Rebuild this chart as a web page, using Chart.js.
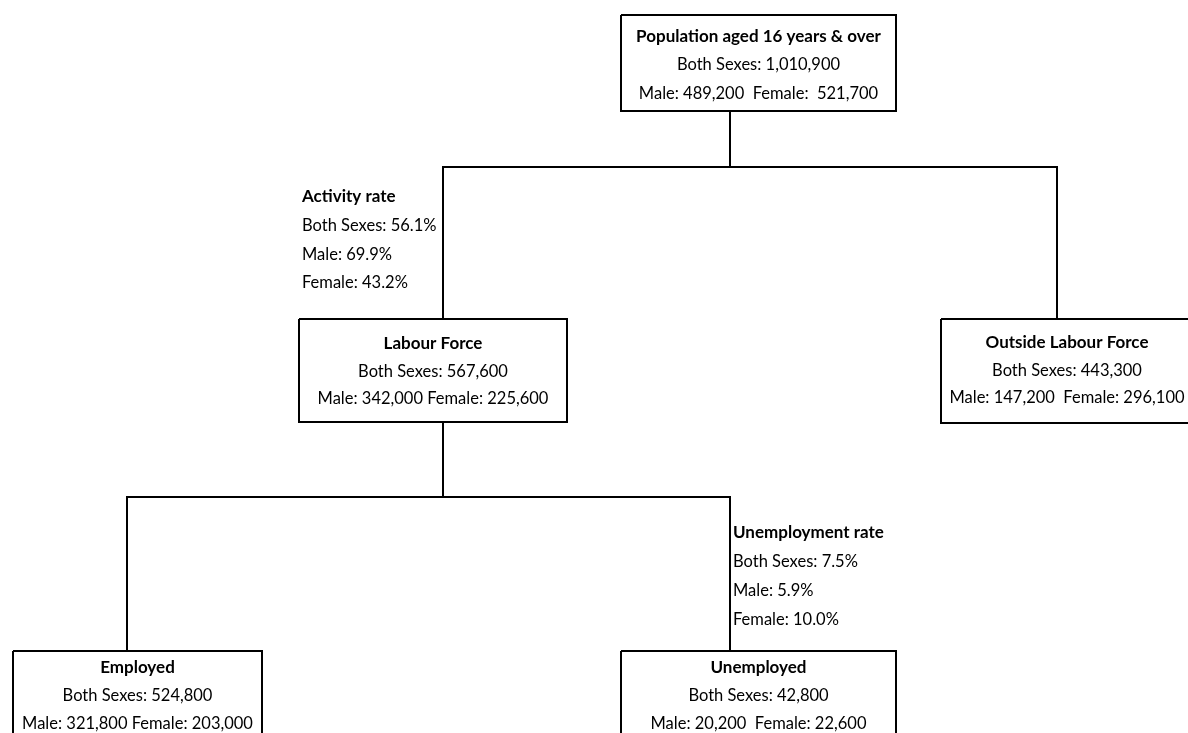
<!DOCTYPE html>
<html>
<head>
<meta charset="utf-8">
<script src="https://cdn.jsdelivr.net/npm/chart.js@4.4.1/dist/chart.umd.min.js"></script>
<style>
    html, body { margin: 0; padding: 0; background: #fff; }
    #wrap { width: 1188px; height: 733px; }
</style>
</head>
<body>
<div id="wrap"><canvas id="tree" width="1188" height="733"></canvas></div>
<script>
// data
var nodeNames = ['Population aged 16 years & over', 'Labour Force', 'Outside Labour Force', 'Employed', 'Unemployed'];
var bothSexes = [1010900, 567600, 443300, 524800, 42800];
var maleCounts = [489200, 342000, 147200, 321800, 20200];
var femaleCounts = [521700, 225600, 296100, 203000, 22600];

var rateNames = ['Activity rate', 'Unemployment rate'];
var rateBoth = [56.1, 7.5];
var rateMale = [69.9, 5.9];
var rateFemale = [43.2, 10.0];

// tree: parent -> child
var links = [[0, 1], [0, 2], [1, 3], [1, 4]];

// layout (pixels of the 1188x733 page)
var boxes = [
    {x0: 621, x1: 896, y0: 15, y1: 111, rows: [37, 65, 94], sep: ['  ', '  ']},
    {x0: 299, x1: 567, y0: 319, y1: 422, rows: [344, 372, 399], sep: [' ', ' ']},
    {x0: 941, x1: 1194, y0: 319, y1: 423, rows: [343, 371, 398], sep: ['  ', ' ']},
    {x0: 13, x1: 262, y0: 651, y1: 770, rows: [668, 696, 724], sep: [' ', ' ']},
    {x0: 621, x1: 896, y0: 651, y1: 770, rows: [668, 696, 724], sep: ['  ', ' ']}
];
var linkMidY = [167, 167, 497, 497];
var linkStub = {0: 730, 1: 443}; // x where the line leaves each parent box
var childX = {1: 443, 2: 1057, 3: 127, 4: 730};
var rateText = [
    {x: 302, rows: [197, 226, 255, 283]},
    {x: 733, rows: [533, 562, 591, 620]}
];

var fmt = function (n) { return n.toLocaleString('en-US'); };

var datasets = [];
boxes.forEach(function (b) {
    datasets.push({
        data: [{x: b.x0, y: b.y0}, {x: b.x1, y: b.y0}, {x: b.x1, y: b.y1}, {x: b.x0, y: b.y1}, {x: b.x0, y: b.y0}]
    });
});
// connectors
var parents = {};
links.forEach(function (l, i) {
    var p = l[0], c = l[1];
    if (!parents[p]) {
        parents[p] = true;
        datasets.push({data: [{x: linkStub[p], y: boxes[p].y1}, {x: linkStub[p], y: linkMidY[i]}]});
    }
    datasets.push({data: [{x: linkStub[p], y: linkMidY[i]}, {x: childX[c], y: linkMidY[i]}, {x: childX[c], y: boxes[c].y0}]});
});
datasets.forEach(function (d) {
    d.showLine = true;
    d.borderColor = '#000';
    d.borderWidth = 2;
    d.pointRadius = 0;
    d.fill = false;
    d.tension = 0;
    d.borderJoinStyle = 'miter';
});

var boldFont = 'bold 17px Lato, "Open Sans", sans-serif';
var plainFont = '16.5px Lato, "Open Sans", sans-serif';

var textPlugin = {
    id: 'treeText',
    afterDatasetsDraw: function (chart) {
        var ctx = chart.ctx;
        var sx = chart.scales.x, sy = chart.scales.y;
        ctx.save();
        ctx.fillStyle = '#000';
        ctx.textBaseline = 'middle';
        ctx.textAlign = 'center';
        boxes.forEach(function (b, i) {
            var cx = sx.getPixelForValue((b.x0 + Math.min(b.x1, 1193)) / 2);
            ctx.font = boldFont;
            ctx.fillText(nodeNames[i], cx, sy.getPixelForValue(b.rows[0]));
            ctx.font = plainFont;
            ctx.fillText('Both Sexes: ' + fmt(bothSexes[i]), cx, sy.getPixelForValue(b.rows[1]));
            ctx.fillText('Male: ' + fmt(maleCounts[i]) + b.sep[0] + 'Female:' + b.sep[1] + fmt(femaleCounts[i]), cx, sy.getPixelForValue(b.rows[2]));
        });
        ctx.textAlign = 'left';
        rateText.forEach(function (r, i) {
            var x = sx.getPixelForValue(r.x);
            ctx.font = boldFont;
            ctx.fillText(rateNames[i], x, sy.getPixelForValue(r.rows[0]));
            ctx.font = plainFont;
            ctx.fillText('Both Sexes: ' + rateBoth[i].toFixed(1) + '%', x, sy.getPixelForValue(r.rows[1]));
            ctx.fillText('Male: ' + rateMale[i].toFixed(1) + '%', x, sy.getPixelForValue(r.rows[2]));
            ctx.fillText('Female: ' + rateFemale[i].toFixed(1) + '%', x, sy.getPixelForValue(r.rows[3]));
        });
        ctx.restore();
    }
};

new Chart(document.getElementById('tree').getContext('2d'), {
    type: 'scatter',
    data: {datasets: datasets},
    options: {
        responsive: false,
        animation: false,
        events: [],
        layout: {padding: 0},
        plugins: {legend: {display: false}, tooltip: {enabled: false}},
        scales: {
            x: {type: 'linear', min: 0, max: 1188, display: false},
            y: {type: 'linear', min: 0, max: 733, reverse: true, display: false}
        }
    },
    plugins: [textPlugin]
});
</script>
</body>
</html>
